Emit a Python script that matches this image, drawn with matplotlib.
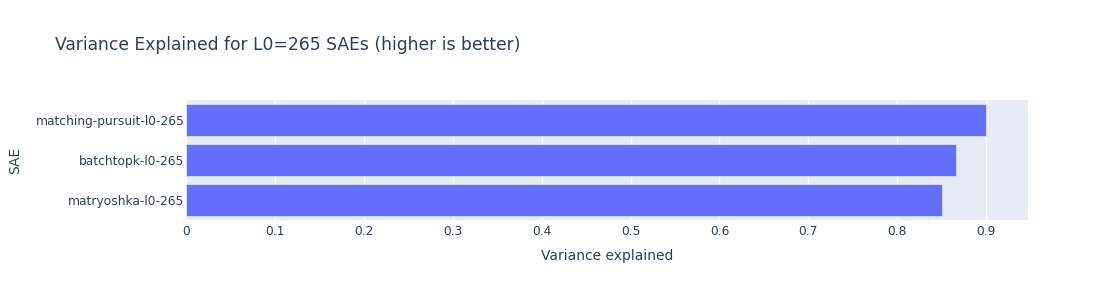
import matplotlib
matplotlib.use("Agg")
import matplotlib.pyplot as plt

saes = ["matryoshka-l0-265", "batchtopk-l0-265", "matching-pursuit-l0-265"]
variance = [0.850, 0.866, 0.900]
xticks = [0, 0.1, 0.2, 0.3, 0.4, 0.5, 0.6, 0.7, 0.8, 0.9]
xtick_labels = ["0", "0.1", "0.2", "0.3", "0.4", "0.5", "0.6", "0.7", "0.8", "0.9"]

plt.rcParams['font.family'] = ['DejaVu Sans']
text_color = "#2a3f5f"

W, H = 1108, 300
fig = plt.figure(figsize=(W / 100, H / 100), dpi=100)
ax = fig.add_axes([186 / W, 1 - 219.5 / H, (1028 - 186) / W, (219.5 - 100) / H])
ax.set_facecolor("#e5ecf6")

ypos = list(range(len(saes)))
ax.barh(ypos, variance, height=0.8, color="#636efa", edgecolor="#e5ecf6", linewidth=0.5, zorder=3)
ax.set_ylim(-0.5, len(saes) - 0.5)
ax.set_xlim(0, 0.947)
ax.set_xticks(xticks)
ax.set_xticklabels(xtick_labels)
ax.set_yticks(ypos)
ax.set_yticklabels(saes)
ax.grid(axis="x", color="white", linewidth=1, zorder=1)
ax.set_axisbelow(True)
for s in ax.spines.values():
    s.set_visible(False)
ax.tick_params(axis="both", length=0, labelsize=8.8, colors=text_color, pad=4)
ax.tick_params(axis="y", pad=1.2)

fig.text((186 + 1028) / 2 / W, 1 - 256 / H, "Variance explained", fontsize=10,
         color=text_color, ha="center", va="center")
fig.text(15 / W, 1 - 160 / H, "SAE", fontsize=10, color=text_color,
         ha="center", va="center", rotation=90)

fig.text(55 / W, 1 - 45 / H, "Variance Explained for L0=265 SAEs (higher is better)",
         fontsize=12.3, color=text_color, ha="left", va="center")

fig.savefig("out.png", dpi=100, facecolor="white")
